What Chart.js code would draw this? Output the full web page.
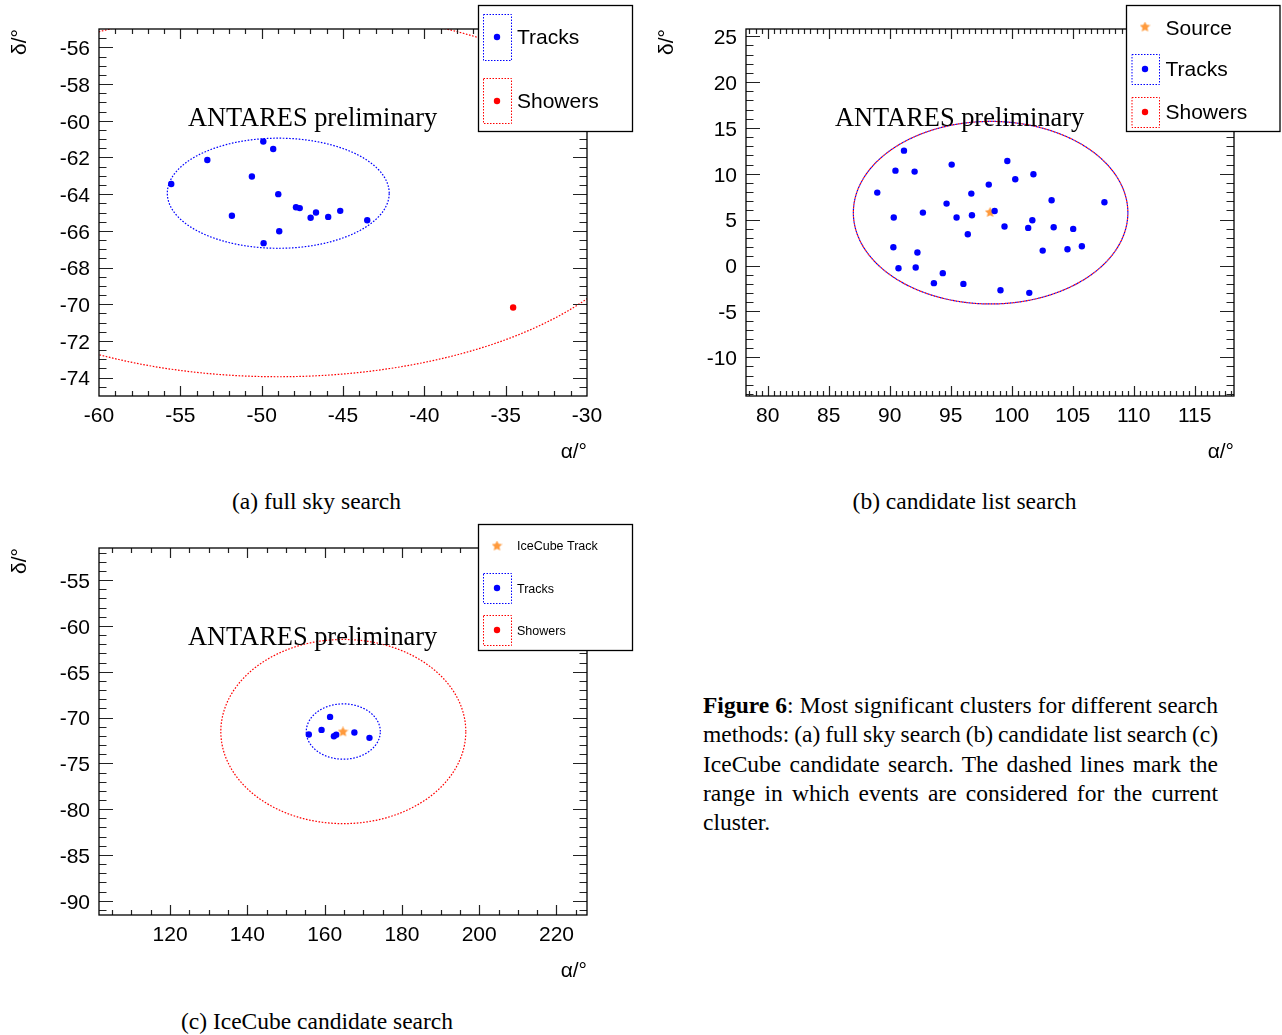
<!DOCTYPE html>
<html lang="en">
<head>
<meta charset="utf-8">
<title>Most significant clusters</title>
<script src="https://cdn.jsdelivr.net/npm/chart.js@4.4.1/dist/chart.umd.min.js"></script>
<style>
  html, body { margin: 0; padding: 0; background: #fff; }
  body { position: relative; width: 1282px; height: 1035px; overflow: hidden; }
  canvas { position: absolute; display: block; }
  .serif { position: absolute; font-family: 'Liberation Serif', 'Times New Roman', serif; font-size: 23.5px; line-height: 29.3px; color: #000; }
  .subcap { width: 420px; text-align: center; white-space: nowrap; }
  #figcap { left: 703px; top: 691px; width: 515px; }
  #figcap div { white-space: nowrap; word-spacing: -2px; }
  #figcap .jl { text-align: justify; text-align-last: justify; }
</style>
</head>
<body>
<canvas id="panelA" width="640" height="470" style="left:0;top:0"></canvas>
<canvas id="panelB" width="635" height="470" style="left:647px;top:0"></canvas>
<canvas id="panelC" width="640" height="470" style="left:0;top:519px"></canvas>

<div class="serif subcap" style="left:106.5px;top:487.4px">(a) full sky search</div>
<div class="serif subcap" style="left:754.5px;top:487.4px">(b) candidate list search</div>
<div class="serif subcap" style="left:107px;top:1007.4px">(c) IceCube candidate search</div>

<div id="figcap" class="serif">
  <div class="jl"><b>Figure 6</b>: Most significant clusters for different search</div>
  <div class="jl">methods: (a) full sky search (b) candidate list search (c)</div>
  <div class="jl">IceCube candidate search. The dashed lines mark the</div>
  <div class="jl">range in which events are considered for the current</div>
  <div>cluster.</div>
</div>

<script>
// ---------- (a) full sky search ----------
const fullSkyTrackRA  = [-49.90, -49.29, -53.34, -55.56, -50.60, -48.98, -51.83, -47.89,
                         -47.66, -46.99, -46.66, -45.91, -45.17, -43.51, -48.92, -49.88];
const fullSkyTrackDec = [-61.13, -61.54, -62.14, -63.45, -63.04, -64.00, -65.18, -64.71,
                         -64.76, -65.29, -65.00, -65.24, -64.91, -65.42, -66.02, -66.67];
const fullSkyShowerRA  = [-34.54];
const fullSkyShowerDec = [-70.18];
const fullSkyCentre = [-48.98, -63.95];          // cluster centre (RA, Dec)
const fullSkyTrackWindow  = [6.82, 3.0];         // half-axes of the track range (RA, Dec)
const fullSkyShowerWindow = [23.2, 10.0];        // half-axes of the shower range (RA, Dec)
const fullSkyRARange  = [-60, -30];
const fullSkyDecRange = [-75, -55];
const fullSkyRATicks  = [-60, -55, -50, -45, -40, -35, -30];
const fullSkyDecTicks = [-74, -72, -70, -68, -66, -64, -62, -60, -58, -56];
const fullSkyLegendLabels = ['Tracks', 'Showers'];

// ---------- (b) candidate list search ----------
const candTrackRA  = [91.17, 95.08, 99.64, 90.47, 92.04, 101.78, 100.29, 98.12, 88.98, 96.69,
                      94.66, 103.27, 107.60, 92.72, 98.60, 90.33, 95.48, 96.74, 101.69, 99.41,
                      101.35, 103.44, 105.04, 96.40, 90.30, 92.27, 104.57, 105.75, 102.54, 90.72,
                      92.13, 94.35, 93.62, 96.04, 99.08, 101.44];
const candTrackDec = [12.52, 11.00, 11.40, 10.34, 10.24, 9.95, 9.40, 8.82, 7.95, 7.84,
                      6.75, 7.11, 6.90, 5.77, 5.95, 5.23, 5.23, 5.48, 4.94, 4.25,
                      4.10, 4.17, 3.99, 3.41, 2.00, 1.42, 1.78, 2.10, 1.63, -0.29,
                      -0.22, -0.83, -1.92, -2.00, -2.69, -2.98];
const candSourceRA  = [98.23];
const candSourceDec = [5.79];
const candCentre = [98.27, 5.76];
const candTrackWindow  = [11.25, 9.95];
const candShowerWindow = [11.25, 9.95];
const candRARange  = [78.22, 118.22];
const candDecRange = [-14.22, 25.78];
const candRATicks  = [80, 85, 90, 95, 100, 105, 110, 115];
const candDecTicks = [-10, -5, 0, 5, 10, 15, 20, 25];
const candLegendLabels = ['Source', 'Tracks', 'Showers'];

// ---------- (c) IceCube candidate search ----------
const iceTrackRA  = [155.9, 159.2, 161.4, 162.4, 163.0, 167.7, 171.6];
const iceTrackDec = [-71.85, -71.35, -69.93, -72.05, -71.87, -71.64, -72.22];
const iceSourceRA  = [164.75];
const iceSourceDec = [-71.56];
const iceCentre = [164.83, -71.53];
const iceTrackWindow  = [9.58, 3.02];
const iceShowerWindow = [31.7, 10.05];
const iceRARange  = [101.6, 227.9];
const iceDecRange = [-91.55, -51.5];
const iceRATicks  = [120, 140, 160, 180, 200, 220];
const iceDecTicks = [-90, -85, -80, -75, -70, -65, -60, -55];
const iceLegendLabels = ['IceCube Track', 'Tracks', 'Showers'];

// ---------- drawing helpers ----------
const SANS  = "'Liberation Sans', Arial, Helvetica, sans-serif";
const SERIF = "'Liberation Serif', 'Times New Roman', serif";
const BLUE = '#0000ff', RED = '#ff0000', ORANGE = '#ff9a3c';

// plot area shared by the three pads (canvas pixels)
const AREA = { left: 99, right: 587, top: 29, bottom: 396, height: 470 };

const pairUp = (xs, ys) => xs.map((x, i) => ({ x, y: ys[i] }));

// closed outline of an event-selection range around the cluster centre
function ellipseOutline(centre, halfAxes, n = 720) {
  const pts = [];
  for (let i = 0; i <= n; i++) {
    const t = (i / n) * 2 * Math.PI;
    pts.push({ x: centre[0] + halfAxes[0] * Math.cos(t), y: centre[1] + halfAxes[1] * Math.sin(t) });
  }
  return pts;
}

// filled five-pointed star used as a marker
function starMarker(color, size) {
  const c = document.createElement('canvas');
  c.width = c.height = size;
  const g = c.getContext('2d');
  const r = size / 2, ri = r * 0.48;
  g.beginPath();
  for (let i = 0; i < 10; i++) {
    const a = -Math.PI / 2 + i * Math.PI / 5;
    const rr = i % 2 ? ri : r;
    g.lineTo(r + rr * Math.cos(a), r + rr * Math.sin(a));
  }
  g.closePath();
  g.fillStyle = color;
  g.fill();
  return c;
}
const STAR = starMarker(ORANGE, 11);

function stepValues(min, max, step) {
  const out = [];
  const start = Math.ceil(min / step - 1e-9);
  for (let k = start; k * step <= max + 1e-9; k++) out.push(+(k * step).toFixed(6));
  return out;
}

// frame with inward major/minor ticks on all four sides
const rootFrame = {
  id: 'rootFrame',
  afterDatasetsDraw(chart, _args, o) {
    const { ctx, chartArea: a } = chart;
    const xs = chart.scales.x, ys = chart.scales.y;
    const majX = xs.ticks.map(t => t.value), majY = ys.ticks.map(t => t.value);
    const isMajor = (v, list, step) => list.some(m => Math.abs(m - v) < step * 1e-3);
    ctx.save();
    ctx.beginPath();
    for (const v of stepValues(xs.min, xs.max, o.xMinor)) {
      const px = Math.round(xs.getPixelForValue(v)) + 0.5;
      if (px <= a.left + 1 || px >= a.right - 1) continue;
      const len = isMajor(v, majX, o.xMinor) ? 10 : 5;
      ctx.moveTo(px, a.bottom); ctx.lineTo(px, a.bottom - len);
      ctx.moveTo(px, a.top); ctx.lineTo(px, a.top + len);
    }
    for (const v of stepValues(ys.min, ys.max, o.yMinor)) {
      const py = Math.round(ys.getPixelForValue(v)) + 0.5;
      if (py <= a.top + 1 || py >= a.bottom - 1) continue;
      const len = isMajor(v, majY, o.yMinor) ? 14 : 7.5;
      ctx.moveTo(a.left, py); ctx.lineTo(a.left + len, py);
      ctx.moveTo(a.right, py); ctx.lineTo(a.right - len, py);
    }
    ctx.lineWidth = 1.2;
    ctx.strokeStyle = '#222';
    ctx.stroke();
    ctx.lineWidth = 1.3;
    ctx.strokeStyle = '#000';
    ctx.strokeRect(a.left, a.top, a.right - a.left, a.bottom - a.top);
    ctx.restore();
  }
};

// "ANTARES preliminary" label
const stamp = {
  id: 'stamp',
  afterDatasetsDraw(chart, _args, o) {
    const ctx = chart.ctx;
    ctx.save();
    ctx.font = `26.4px ${SERIF}`;
    ctx.fillStyle = '#000';
    ctx.textBaseline = 'alphabetic';
    ctx.textAlign = 'left';
    ctx.fillText(o.text, o.x, o.y);
    ctx.restore();
  }
};

// boxed legend in the top-right corner
const rootLegend = {
  id: 'rootLegend',
  afterDraw(chart, _args, o) {
    const ctx = chart.ctx;
    const [x0, y0, x1, y1] = o.box;
    ctx.save();
    ctx.fillStyle = '#fff';
    ctx.fillRect(x0, y0, x1 - x0, y1 - y0);
    ctx.lineWidth = 1.3;
    ctx.strokeStyle = '#000';
    ctx.strokeRect(x0, y0, x1 - x0, y1 - y0);
    for (const e of o.entries) {
      if (e.frame) {
        ctx.save();
        ctx.setLineDash([1.5, 1.5]);
        ctx.lineWidth = 1;
        ctx.strokeStyle = e.color;
        const [fx0, fy0, fx1, fy1] = e.frame;
        ctx.strokeRect(fx0 + 0.5, fy0 + 0.5, fx1 - fx0, fy1 - fy0);
        ctx.restore();
      }
      if (e.kind === 'star') {
        ctx.drawImage(STAR, e.marker[0] - STAR.width / 2, e.marker[1] - STAR.height / 2);
      } else {
        ctx.beginPath();
        ctx.arc(e.marker[0], e.marker[1], 3.2, 0, 2 * Math.PI);
        ctx.fillStyle = e.color;
        ctx.fill();
      }
      ctx.font = `${o.fontSize}px ${SANS}`;
      ctx.fillStyle = '#000';
      ctx.textBaseline = 'alphabetic';
      ctx.fillText(e.label, e.text[0], e.text[1]);
    }
    ctx.restore();
  }
};

function makePanel(id, p) {
  const canvas = document.getElementById(id);
  const W = canvas.width;
  const axisFont = { family: SANS, size: 21 };
  const datasets = [];
  for (const m of p.markers) {
    datasets.push({
      data: pairUp(m.ra, m.dec), showLine: false,
      pointStyle: m.star ? STAR : 'circle', pointRadius: m.star ? 5 : 3.2,
      backgroundColor: m.color, borderColor: m.color, borderWidth: 0, pointBorderWidth: 0
    });
  }
  for (const w of p.windows) {
    datasets.push({
      data: ellipseOutline(p.centre, w.halfAxes), showLine: true, pointRadius: 0,
      borderColor: w.color, borderWidth: 1.2, borderDash: [1.6, 1.6],
      borderDashOffset: w.dashOffset || 0, clip: 0, fill: false, tension: 0
    });
  }
  return new Chart(canvas, {
    type: 'scatter',
    data: { datasets },
    options: {
      responsive: false, animation: false, events: [],
      layout: { autoPadding: false, padding: { left: 0, top: AREA.top, right: W - AREA.right, bottom: 0 } },
      plugins: {
        legend: { display: false }, tooltip: { enabled: false },
        rootFrame: { xMinor: p.xMinor, yMinor: p.yMinor },
        stamp: { text: 'ANTARES preliminary', x: 188, y: 126 },
        rootLegend: p.legend
      },
      scales: {
        x: {
          type: 'linear', position: 'bottom', min: p.xRange[0], max: p.xRange[1],
          afterBuildTicks: s => { s.ticks = p.xTicks.map(v => ({ value: v })); },
          afterFit: s => { s.height = AREA.height - AREA.bottom; },
          grid: { display: false, drawTicks: false }, border: { display: false },
          ticks: { font: axisFont, color: '#000', padding: 8, maxRotation: 0, autoSkip: false, callback: v => String(v) },
          title: { display: true, text: 'α/°', align: 'end', color: '#000', font: axisFont, padding: { top: 0, bottom: 5 } }
        },
        y: {
          type: 'linear', position: 'left', min: p.yRange[0], max: p.yRange[1],
          afterBuildTicks: s => { s.ticks = p.yTicks.map(v => ({ value: v })); },
          afterFit: s => { s.width = AREA.left; },
          grid: { display: false, drawTicks: false }, border: { display: false },
          ticks: { font: axisFont, color: '#000', padding: 9, labelOffset: 2, autoSkip: false, callback: v => String(v) },
          title: { display: true, text: 'δ/°', align: 'end', color: '#000', font: axisFont, padding: { top: 8, bottom: 0 } }
        }
      }
    },
    plugins: [rootFrame, stamp, rootLegend]
  });
}

// (a)
makePanel('panelA', {
  markers: [
    { ra: fullSkyTrackRA, dec: fullSkyTrackDec, color: BLUE },
    { ra: fullSkyShowerRA, dec: fullSkyShowerDec, color: RED }
  ],
  centre: fullSkyCentre,
  windows: [
    { halfAxes: fullSkyTrackWindow, color: BLUE },
    { halfAxes: fullSkyShowerWindow, color: RED }
  ],
  xRange: fullSkyRARange, yRange: fullSkyDecRange,
  xTicks: fullSkyRATicks, yTicks: fullSkyDecTicks, xMinor: 1, yMinor: 0.5,
  legend: {
    box: [478.5, 5.5, 632.5, 131.5], fontSize: 21,
    entries: [
      { label: fullSkyLegendLabels[0], kind: 'dot', color: BLUE, frame: [483, 14, 511, 60], marker: [497, 37], text: [517, 44] },
      { label: fullSkyLegendLabels[1], kind: 'dot', color: RED, frame: [483, 78, 511, 123], marker: [497, 101], text: [517, 108] }
    ]
  }
});

// (b)
makePanel('panelB', {
  markers: [
    { ra: candTrackRA, dec: candTrackDec, color: BLUE },
    { ra: candSourceRA, dec: candSourceDec, color: ORANGE, star: true }
  ],
  centre: candCentre,
  windows: [
    { halfAxes: candShowerWindow, color: RED, dashOffset: 1.6 },
    { halfAxes: candTrackWindow, color: BLUE }
  ],
  xRange: candRARange, yRange: candDecRange,
  xTicks: candRATicks, yTicks: candDecTicks, xMinor: 0.5, yMinor: 1,
  legend: {
    box: [479.5, 5.5, 633, 131.5], fontSize: 21,
    entries: [
      { label: candLegendLabels[0], kind: 'star', color: ORANGE, marker: [498, 27], text: [518.5, 35] },
      { label: candLegendLabels[1], kind: 'dot', color: BLUE, frame: [484.5, 54, 512, 84], marker: [498, 69], text: [518.5, 76] },
      { label: candLegendLabels[2], kind: 'dot', color: RED, frame: [484.5, 97, 512, 127], marker: [498, 112], text: [518.5, 119] }
    ]
  }
});

// (c)
makePanel('panelC', {
  markers: [
    { ra: iceSourceRA, dec: iceSourceDec, color: ORANGE, star: true },
    { ra: iceTrackRA, dec: iceTrackDec, color: BLUE }
  ],
  centre: iceCentre,
  windows: [
    { halfAxes: iceTrackWindow, color: BLUE },
    { halfAxes: iceShowerWindow, color: RED }
  ],
  xRange: iceRARange, yRange: iceDecRange,
  xTicks: iceRATicks, yTicks: iceDecTicks, xMinor: 5, yMinor: 1,
  legend: {
    box: [478.5, 5.5, 632.5, 131.5], fontSize: 12.5,
    entries: [
      { label: iceLegendLabels[0], kind: 'star', color: ORANGE, marker: [497, 27], text: [517, 31] },
      { label: iceLegendLabels[1], kind: 'dot', color: BLUE, frame: [483, 54, 511, 84], marker: [497, 69], text: [517, 74] },
      { label: iceLegendLabels[2], kind: 'dot', color: RED, frame: [483, 96, 511, 126], marker: [497, 111], text: [517, 116] }
    ]
  }
});
</script>
</body>
</html>
